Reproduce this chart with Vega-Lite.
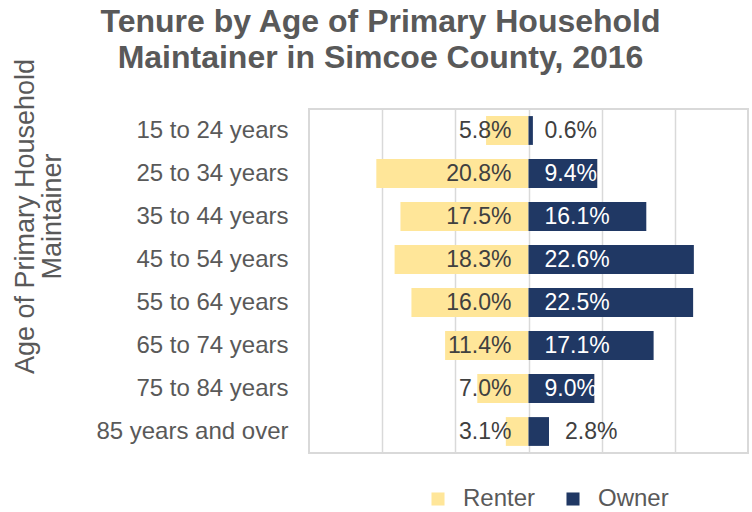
{
  "$schema": "https://vega.github.io/schema/vega-lite/v6.json",
  "width": 439,
  "height": 344,
  "autosize": {"type": "none"},
  "padding": {"left": 309, "top": 109, "right": 4, "bottom": 59},
  "title": {
    "text": ["Tenure by Age of Primary Household", "Maintainer in Simcoe County, 2016"],
    "fontSize": 32,
    "font": "Liberation Sans",
    "fontWeight": "bold",
    "color": "#595959",
    "anchor": "middle",
    "frame": "group",
    "dx": -148,
    "offset": -17,
    "lineHeight": 36
  },
  "config": {
    "view": {"stroke": "#D9D9D9", "strokeWidth": 2},
    "font": "Liberation Sans"
  },
  "data": {
    "values": [
      {"age": "15 to 24 years", "tenure": "Renter", "pct": 5.8},
      {"age": "15 to 24 years", "tenure": "Owner", "pct": 0.6},
      {"age": "25 to 34 years", "tenure": "Renter", "pct": 20.8},
      {"age": "25 to 34 years", "tenure": "Owner", "pct": 9.4},
      {"age": "35 to 44 years", "tenure": "Renter", "pct": 17.5},
      {"age": "35 to 44 years", "tenure": "Owner", "pct": 16.1},
      {"age": "45 to 54 years", "tenure": "Renter", "pct": 18.3},
      {"age": "45 to 54 years", "tenure": "Owner", "pct": 22.6},
      {"age": "55 to 64 years", "tenure": "Renter", "pct": 16.0},
      {"age": "55 to 64 years", "tenure": "Owner", "pct": 22.5},
      {"age": "65 to 74 years", "tenure": "Renter", "pct": 11.4},
      {"age": "65 to 74 years", "tenure": "Owner", "pct": 17.1},
      {"age": "75 to 84 years", "tenure": "Renter", "pct": 7.0},
      {"age": "75 to 84 years", "tenure": "Owner", "pct": 9.0},
      {"age": "85 years and over", "tenure": "Renter", "pct": 3.1},
      {"age": "85 years and over", "tenure": "Owner", "pct": 2.8}
    ]
  },
  "transform": [
    {"calculate": "datum.tenure == 'Renter' ? -datum.pct : datum.pct", "as": "signed"},
    {"calculate": "format(datum.pct, '.1f') + '%'", "as": "label"}
  ],
  "encoding": {
    "y": {
      "field": "age",
      "type": "nominal",
      "sort": null,
      "scale": {"paddingInner": 0.33, "paddingOuter": 0.165},
      "axis": {
        "title": ["Age of Primary Household", "Maintainer"],
        "titleFontSize": 27,
        "titleFontWeight": "normal",
        "titleColor": "#595959",
        "titleX": -297,
        "titleY": 107,
        "titleAngle": -90,
        "titleAlign": "center",
        "titleBaseline": "top",
        "titleLineHeight": 27,
        "labelFontSize": 24,
        "labelColor": "#595959",
        "labelPadding": 21,
        "labelLimit": 300,
        "ticks": false,
        "domain": false
      }
    }
  },
  "layer": [
    {
      "mark": {"type": "bar"},
      "encoding": {
        "x": {
          "field": "signed",
          "type": "quantitative",
          "scale": {"domain": [-30, 30]},
          "axis": {
            "title": null,
            "labels": false,
            "ticks": false,
            "domain": false,
            "grid": true,
            "gridColor": "#D9D9D9",
            "gridWidth": 1.5,
            "values": [-20, -10, 0, 10, 20]
          }
        },
        "color": {
          "field": "tenure",
          "type": "nominal",
          "scale": {"domain": ["Renter", "Owner"], "range": ["#FFE699", "#203864"]},
          "legend": {
            "title": null,
            "orient": "none",
            "legendX": 117,
            "legendY": 378,
            "padding": 0,
            "direction": "horizontal",
            "symbolType": "square",
            "symbolSize": 170,
            "symbolStrokeWidth": 0,
            "labelFontSize": 24,
            "labelColor": "#595959",
            "labelOffset": 13,
            "columnPadding": 25
          }
        }
      }
    },
    {
      "transform": [{"filter": "datum.tenure == 'Renter'"}],
      "mark": {"type": "text", "align": "right", "dx": -17, "fontSize": 23, "color": "#404040"},
      "encoding": {
        "x": {"datum": 0, "type": "quantitative"},
        "text": {"field": "label"}
      }
    },
    {
      "transform": [
        {"filter": "datum.tenure == 'Owner'"},
        {"calculate": "datum.pct < 1 ? 0 : (datum.pct < 5 ? datum.pct : 0)", "as": "lx"}
      ],
      "mark": {"type": "text", "align": "left", "dx": 16, "fontSize": 23},
      "encoding": {
        "x": {"field": "lx", "type": "quantitative"},
        "text": {"field": "label"},
        "color": {"condition": {"test": "datum.pct < 5", "value": "#404040"}, "value": "#FFFFFF"}
      }
    }
  ]
}
